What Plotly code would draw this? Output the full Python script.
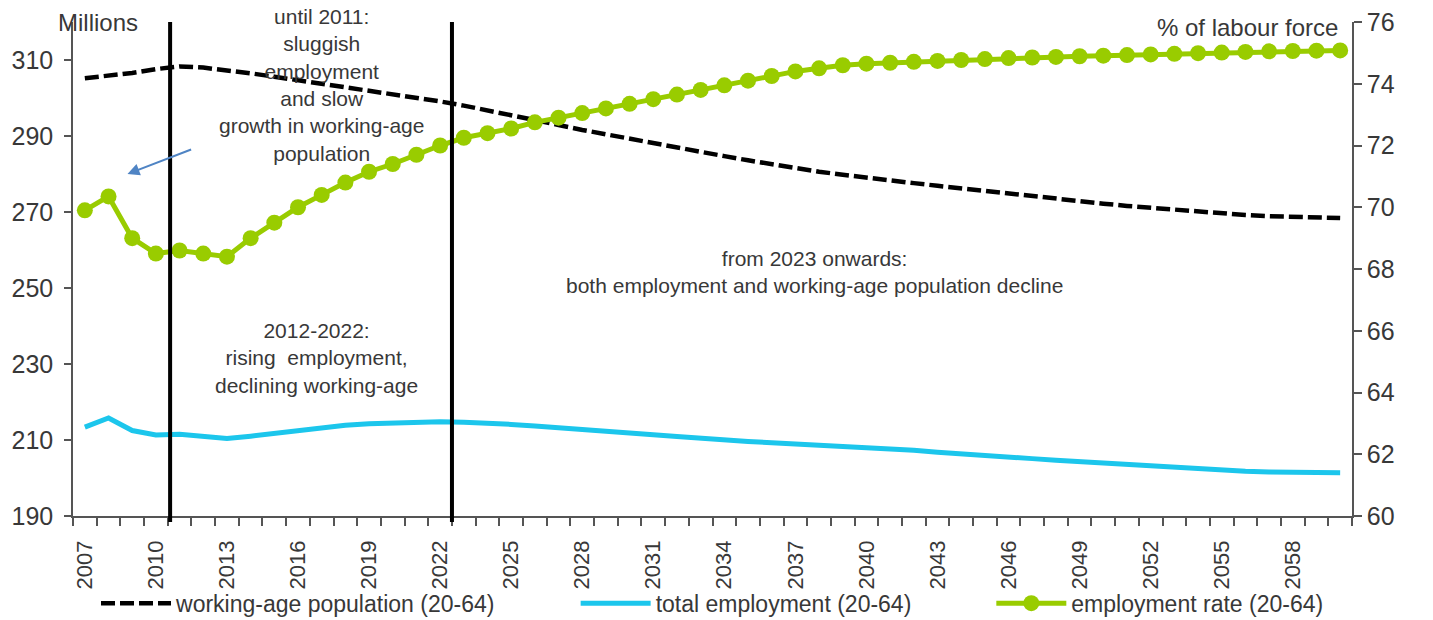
import plotly.graph_objects as go

years = list(range(2007, 2061))

working_age_pop = [
    305.2, 305.8, 306.6, 307.6, 308.3, 308.0, 307.3, 306.5, 305.6, 304.7,
    303.8, 302.9, 302.0, 301.0, 300.1, 299.1, 298.0, 296.8, 295.5, 294.2,
    292.9, 291.6, 290.4, 289.2, 288.0, 286.9, 285.8, 284.7, 283.6, 282.5,
    281.5, 280.6, 279.8, 279.0, 278.3, 277.6, 276.9, 276.2, 275.5, 274.8,
    274.1, 273.4, 272.8, 272.2, 271.6, 271.1, 270.6, 270.1, 269.6, 269.2,
    268.9, 268.7, 268.5, 268.4,
]

total_employment = [
    213.4, 215.8, 212.5, 211.3, 211.5, 211.0, 210.4, 211.0, 211.8, 212.6,
    213.3, 213.9, 214.3, 214.5, 214.7, 214.8, 214.7, 214.5, 214.1, 213.7,
    213.3, 212.9, 212.4, 211.9, 211.4, 210.9, 210.4, 210.0, 209.6, 209.3,
    209.0, 208.8, 208.5, 208.1, 207.7, 207.3, 206.8, 206.3, 205.9, 205.5,
    205.1, 204.7, 204.3, 203.9, 203.6, 203.3, 203.0, 202.6, 202.2, 201.8,
    201.6, 201.5, 201.5, 201.4,
]

employment_rate = [
    69.9, 70.35, 69.0, 68.5, 68.6, 68.5, 68.4, 69.0, 69.5, 70.0,
    70.4, 70.8, 71.15, 71.4, 71.7, 72.0, 72.25, 72.4, 72.55, 72.75,
    72.9, 73.05, 73.2, 73.35, 73.5, 73.65, 73.8, 73.95, 74.1, 74.25,
    74.4, 74.5, 74.6, 74.65, 74.68, 74.71, 74.74, 74.77, 74.8, 74.83,
    74.85, 74.87, 74.89, 74.91, 74.93, 74.95, 74.97, 74.99, 75.01, 75.03,
    75.05, 75.06, 75.07, 75.08,
]

year_labels = list(range(2007, 2061, 3))
left_ticks = [190, 210, 230, 250, 270, 290, 310]
right_ticks = [60, 62, 64, 66, 68, 70, 72, 74, 76]
period_breaks = [2010.6, 2022.5]

FONT = "Liberation Sans, Arial, sans-serif"
TXT = "#383838"
AX = "#555555"

fig = go.Figure()

fig.add_trace(go.Scatter(
    x=years, y=working_age_pop, name="working-age population (20-64)",
    mode="lines", line=dict(color="black", width=4.5, dash="14px,5px"),
    yaxis="y", legend="legend",
))
fig.add_trace(go.Scatter(
    x=years, y=total_employment, name="total employment (20-64)",
    mode="lines", line=dict(color="#1CC6EC", width=5),
    yaxis="y", legend="legend2",
))
fig.add_trace(go.Scatter(
    x=years, y=employment_rate, name="employment rate (20-64)",
    mode="lines+markers", line=dict(color="#99CC00", width=5),
    marker=dict(color="#99CC00", size=16, symbol="circle"),
    yaxis="y2", legend="legend3",
))

for xb in period_breaks:
    fig.add_shape(type="line", xref="x", yref="paper", x0=xb, x1=xb,
                  y0=-0.012, y1=1.0, line=dict(color="black", width=4))

annos = [
    dict(x=2017.0, y=303.5,
         text="until 2011:<br>sluggish<br>employment<br>and slow<br>growth in working-age<br>population"),
    dict(x=2016.8, y=231.7,
         text="2012-2022:<br>rising  employment,<br>declining working-age"),
    dict(x=2037.8, y=254.3,
         text="from 2023 onwards:<br>both employment and working-age population decline"),
]
for a in annos:
    fig.add_annotation(x=a["x"], y=a["y"], xref="x", yref="y", text=a["text"],
                       showarrow=False, align="center",
                       font=dict(family=FONT, size=21, color=TXT))

fig.add_annotation(x=2008.8, y=280.0, ax=2011.55, ay=286.6, xref="x", yref="y",
                   axref="x", ayref="y", text="", showarrow=True,
                   arrowhead=2, arrowsize=1.2, arrowwidth=2, arrowcolor="#4F84C4")

fig.add_annotation(x=-0.013, y=1.0, xref="paper", yref="paper", text="Millions",
                   showarrow=False, xanchor="left", yanchor="middle",
                   font=dict(family=FONT, size=24, color=TXT))
fig.add_annotation(x=0.9905, y=0.988, xref="paper", yref="paper", text="% of labour force",
                   showarrow=False, xanchor="right", yanchor="middle",
                   font=dict(family=FONT, size=24, color=TXT))

leg_common = dict(orientation="h", yref="container", y=0.027, yanchor="middle",
                  xanchor="left", font=dict(family=FONT, size=23, color=TXT),
                  itemwidth=70, bgcolor="rgba(0,0,0,0)")

fig.update_layout(
    width=1433, height=620,
    margin=dict(l=73, r=81, t=22, b=104),
    paper_bgcolor="white", plot_bgcolor="white",
    font=dict(family=FONT, size=21, color=TXT),
    showlegend=True,
    legend=dict(x=0.018, **leg_common),
    legend2=dict(x=0.393, **leg_common),
    legend3=dict(x=0.718, **leg_common),
    xaxis=dict(
        range=[2006.5, 2060.5], tickmode="array", tickvals=year_labels,
        ticktext=[str(v) for v in year_labels], tickangle=-90, ticks="",
        showline=True, linecolor=AX, linewidth=1.5, showgrid=False, zeroline=False,
        automargin=False, ticklabelstandoff=14,
        tickfont=dict(family=FONT, size=22, color=TXT),
        minor=dict(ticks="outside", tick0=2006.5, dtick=1, ticklen=8,
                   tickcolor=AX, tickwidth=1.5, showgrid=False),
    ),
    yaxis=dict(
        range=[190, 320], tickmode="array", tickvals=left_ticks,
        showline=True, linecolor=AX, linewidth=1.5, ticks="outside", ticklen=7,
        tickcolor=AX, tickwidth=1.5, showgrid=False, zeroline=False,
        automargin=False, ticklabelstandoff=6,
        tickfont=dict(family=FONT, size=25, color=TXT),
    ),
    yaxis2=dict(
        range=[60, 76], tickmode="array", tickvals=right_ticks, overlaying="y",
        side="right", showline=True, linecolor=AX, linewidth=1.5, ticks="outside",
        ticklen=8, tickcolor=AX, tickwidth=1.5, showgrid=False, zeroline=False,
        automargin=False,
        tickfont=dict(family=FONT, size=25, color=TXT),
    ),
)

fig.write_html("out.html", config={"displayModeBar": False},
               post_script="document.body.style.margin='0';")
